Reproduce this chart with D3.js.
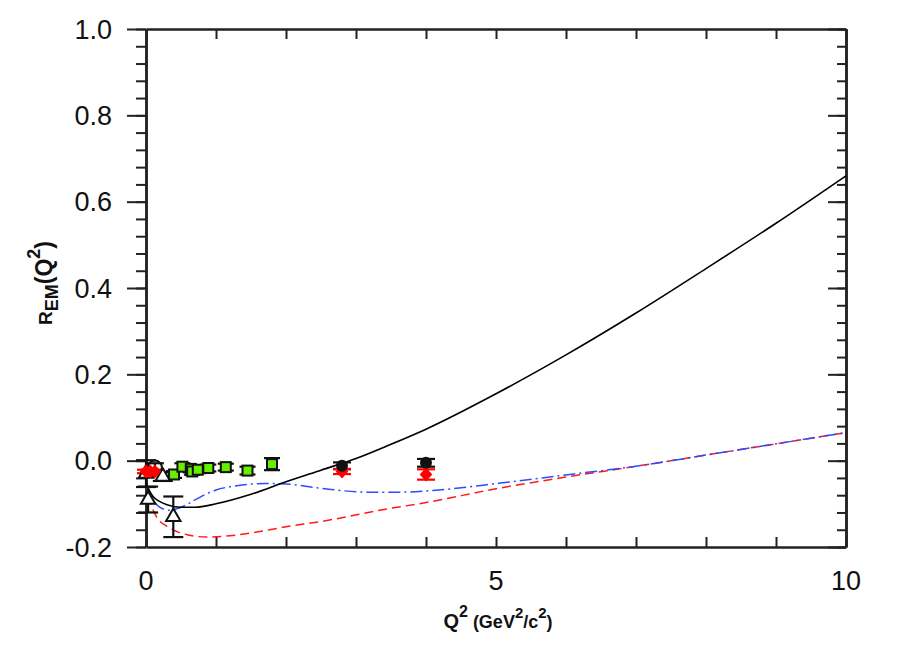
<!DOCTYPE html>
<html>
<head>
<meta charset="utf-8">
<script src="https://cdn.jsdelivr.net/npm/d3@7"></script>
<style>
  body { margin: 0; background: #fff; }
  svg { font-family: "Liberation Sans", Arial, Helvetica, sans-serif; }
</style>
</head>
<body>
<svg width="900" height="672"></svg>
<script>
// curves: Q2 (GeV^2/c^2) vs R_EM
const curveQ2 = {
  black: [0, 0.05, 0.1, 0.2, 0.3, 0.5, 0.7, 1.0, 1.5, 2.0, 2.5, 3.0, 3.5, 4.0, 5, 6, 7, 8, 9, 10],
  red:   [0, 0.03, 0.08, 0.15, 0.3, 0.45, 0.6, 0.87, 1.2, 1.53, 2.0, 2.5, 3.4, 4.0, 5, 6, 7, 8, 9, 10],
  blue:  [0, 0.05, 0.1, 0.2, 0.34, 0.5, 0.6, 0.8, 1.0, 1.3, 1.7, 2.0, 2.5, 3.16, 3.6, 4.1, 5.06, 6, 7, 8, 9, 10]
}
const blackCurve = [-0.05, -0.07, -0.083, -0.095, -0.102, -0.108, -0.108, -0.1, -0.078, -0.049, -0.022, 0.005, 0.038, 0.073, 0.155, 0.245, 0.342, 0.445, 0.55, 0.66]
const redCurve = [-0.05, -0.075, -0.105, -0.13, -0.152, -0.165, -0.172, -0.177, -0.174, -0.167, -0.153, -0.141, -0.113, -0.097, -0.065, -0.038, -0.013, 0.013, 0.039, 0.065]
const blueCurve = [-0.05, -0.08, -0.092, -0.108, -0.115, -0.108, -0.1, -0.082, -0.068, -0.058, -0.053, -0.054, -0.064, -0.073, -0.073, -0.069, -0.052, -0.033, -0.013, 0.013, 0.039, 0.065]

// data points
const greenQ2 = [0.40, 0.52, 0.64, 0.66, 0.74, 0.89, 1.14, 1.45, 1.80]
const greenR = [-0.032, -0.014, -0.019, -0.025, -0.021, -0.017, -0.015, -0.023, -0.008]
const greenErr = [0.008, 0.008, 0.008, 0.008, 0.008, 0.008, 0.008, 0.009, 0.014]

const blackQ2 = [2.8, 4.0]
const blackR = [-0.012, -0.005]
const blackErr = [0.008, 0.009]

const redQ2 = [0.0, 0.06, 0.127, 2.8, 4.0]
const redR = [-0.025, -0.025, -0.025, -0.025, -0.032]
const redErr = [0.004, 0.004, 0.004, 0.006, 0.012]

const circQ2 = [0.127]
const circR = [-0.016]
const circErr = [0.01]

const triQ2 = [0.0, 0.03, 0.24, 0.39]
const triR = [-0.03, -0.09, -0.037, -0.13]
const triErr = [0.031, 0.03, 0.01, 0.047]

const xTicks = [0, 5, 10]
const yTicks = [-0.2, 0.0, 0.2, 0.4, 0.6, 0.8, 1.0]

const svg = d3.select("svg")
const mLeft = 146, mRight = 846, mTop = 29, mBottom = 547

const x = d3.scaleLinear().domain([0, 10]).range([mLeft, mRight])
const y = d3.scaleLinear().domain([-0.2, 1.0]).range([mBottom, mTop])

const yMinor = d3.range(-0.2, 1.0001, 0.04).map(d => +d.toFixed(2))
const xMinor = d3.range(0, 11, 1)

function styleAxis(g, w) {
  g.selectAll("path").attr("stroke", "#222").attr("stroke-width", w)
  g.selectAll("line").attr("stroke", "#222").attr("stroke-width", 2)
  g.selectAll("text").remove()
}

// left: ticks outside
svg.append("g").attr("transform", `translate(${mLeft},0)`)
  .call(d3.axisLeft(y).tickValues(yMinor).tickSize(10).tickSizeOuter(0))
  .call(g => styleAxis(g, 2.5))
svg.append("g").attr("transform", `translate(${mLeft},0)`)
  .call(d3.axisLeft(y).tickValues(yTicks).tickSize(19).tickSizeOuter(0))
  .call(g => styleAxis(g, 2.5))
// right: ticks inside
svg.append("g").attr("transform", `translate(${mRight},0)`)
  .call(d3.axisLeft(y).tickValues(yMinor).tickSize(9).tickSizeOuter(0))
  .call(g => styleAxis(g, 2.5))
svg.append("g").attr("transform", `translate(${mRight},0)`)
  .call(d3.axisLeft(y).tickValues(yTicks).tickSize(18).tickSizeOuter(0))
  .call(g => styleAxis(g, 2.5))
// top and bottom: ticks inside
svg.append("g").attr("transform", `translate(0,${mTop})`)
  .call(d3.axisBottom(x).tickValues(xMinor).tickSize(10).tickSizeOuter(0))
  .call(g => styleAxis(g, 2.5))
svg.append("g").attr("transform", `translate(0,${mBottom})`)
  .call(d3.axisTop(x).tickValues(xMinor).tickSize(10).tickSizeOuter(0))
  .call(g => styleAxis(g, 2.5))

// tick labels
svg.append("g").selectAll("text")
  .data(yTicks)
  .enter()
  .append("text")
  .attr("x", 112)
  .attr("y", d => y(d))
  .attr("dy", "0.36em")
  .attr("text-anchor", "end")
  .attr("font-size", 27)
  .attr("fill", "#111")
  .text(d => d3.format(".1f")(d).replace("−", "-"))

svg.append("g").selectAll("text")
  .data(xTicks)
  .enter()
  .append("text")
  .attr("x", d => x(d))
  .attr("y", 590)
  .attr("text-anchor", "middle")
  .attr("font-size", 27)
  .attr("fill", "#111")
  .text(d => d)

// axis titles
const xt = svg.append("text")
  .attr("x", 498).attr("y", 628)
  .attr("text-anchor", "middle")
  .attr("font-weight", "bold")
  .attr("font-size", 18)
  .attr("fill", "#111")
xt.append("tspan").attr("font-size", 20).text("Q")
xt.append("tspan").attr("dy", -11).attr("font-size", 16).text("2")
xt.append("tspan").attr("dy", 11).text(" (GeV")
xt.append("tspan").attr("dy", -10).attr("font-size", 15).text("2")
xt.append("tspan").attr("dy", 10).text("/c")
xt.append("tspan").attr("dy", -10).attr("font-size", 15).text("2")
xt.append("tspan").attr("dy", 10).text(")")

const yt = svg.append("text")
  .attr("transform", "translate(52,283) rotate(-90)")
  .attr("text-anchor", "middle")
  .attr("font-weight", "bold")
  .attr("font-size", 23)
  .attr("fill", "#111")
yt.append("tspan").attr("font-size", 19).text("R")
yt.append("tspan").attr("dy", 6).attr("font-size", 18).text("EM")
yt.append("tspan").attr("dy", -6).text("(Q")
yt.append("tspan").attr("dy", -12).attr("font-size", 18).text("2")
yt.append("tspan").attr("dy", 12).text(")")

// curves
const line = d3.line().x(d => x(d[0])).y(d => y(d[1])).curve(d3.curveMonotoneX)
const plot = svg.append("g")

plot.append("path")
  .attr("d", line(d3.zip(curveQ2.red, redCurve)))
  .attr("fill", "none").attr("stroke", "#ff1a1a").attr("stroke-width", 1.5)
  .attr("stroke-dasharray", "9,5")
plot.append("path")
  .attr("d", line(d3.zip(curveQ2.blue, blueCurve)))
  .attr("fill", "none").attr("stroke", "#2a4dff").attr("stroke-width", 1.5)
  .attr("stroke-dasharray", "12,4,2,4")
plot.append("path")
  .attr("d", line(d3.zip(curveQ2.black, blackCurve)))
  .attr("fill", "none").attr("stroke", "#000").attr("stroke-width", 1.6)

// error bars
function errorBars(qs, rs, es, color, capW) {
  const g = plot.append("g").attr("stroke", color).attr("stroke-width", 2.2)
  const data = d3.zip(qs, rs, es)
  g.selectAll("line.v").data(data).enter().append("line")
    .attr("x1", d => x(d[0])).attr("x2", d => x(d[0]))
    .attr("y1", d => y(d[1] + d[2])).attr("y2", d => y(d[1] - d[2]))
  g.selectAll("line.t").data(data).enter().append("line")
    .attr("x1", d => x(d[0]) - capW).attr("x2", d => x(d[0]) + capW)
    .attr("y1", d => y(d[1] + d[2])).attr("y2", d => y(d[1] + d[2]))
  g.selectAll("line.b").data(data).enter().append("line")
    .attr("x1", d => x(d[0]) - capW).attr("x2", d => x(d[0]) + capW)
    .attr("y1", d => y(d[1] - d[2])).attr("y2", d => y(d[1] - d[2]))
}

errorBars(triQ2, triR, triErr, "#111", 10)
errorBars(circQ2, circR, circErr, "#111", 9)
errorBars(greenQ2, greenR, greenErr, "#111", 8)
errorBars(blackQ2, blackR, blackErr, "#111", 9)
errorBars(redQ2, redR, redErr, "#ff0000", 9)

// markers
plot.append("g").selectAll("path")
  .data(d3.zip(triQ2, triR))
  .enter().append("path")
  .attr("transform", d => `translate(${x(d[0])},${y(d[1])})`)
  .attr("d", d3.symbol(d3.symbolTriangle, 90))
  .attr("fill", "#fff").attr("stroke", "#111").attr("stroke-width", 2)

plot.append("g").selectAll("circle")
  .data(d3.zip(circQ2, circR))
  .enter().append("circle")
  .attr("cx", d => x(d[0])).attr("cy", d => y(d[1])).attr("r", 7)
  .attr("fill", "none").attr("stroke", "#111").attr("stroke-width", 2)

plot.append("g").selectAll("rect")
  .data(d3.zip(greenQ2, greenR))
  .enter().append("rect")
  .attr("x", d => x(d[0]) - 5).attr("y", d => y(d[1]) - 5)
  .attr("width", 10).attr("height", 10)
  .attr("fill", "#66ee00").attr("stroke", "#111").attr("stroke-width", 2)

plot.append("g").selectAll("path")
  .data(d3.zip(redQ2, redR))
  .enter().append("path")
  .attr("transform", d => `translate(${x(d[0])},${y(d[1])}) scale(1.4,0.9)`)
  .attr("d", d3.symbol(d3.symbolDiamond, 70))
  .attr("fill", "#ff0000")

plot.append("g").selectAll("circle")
  .data(d3.zip(blackQ2, blackR))
  .enter().append("circle")
  .attr("cx", d => x(d[0])).attr("cy", d => y(d[1])).attr("r", 6)
  .attr("fill", "#111")
</script>
</body>
</html>
